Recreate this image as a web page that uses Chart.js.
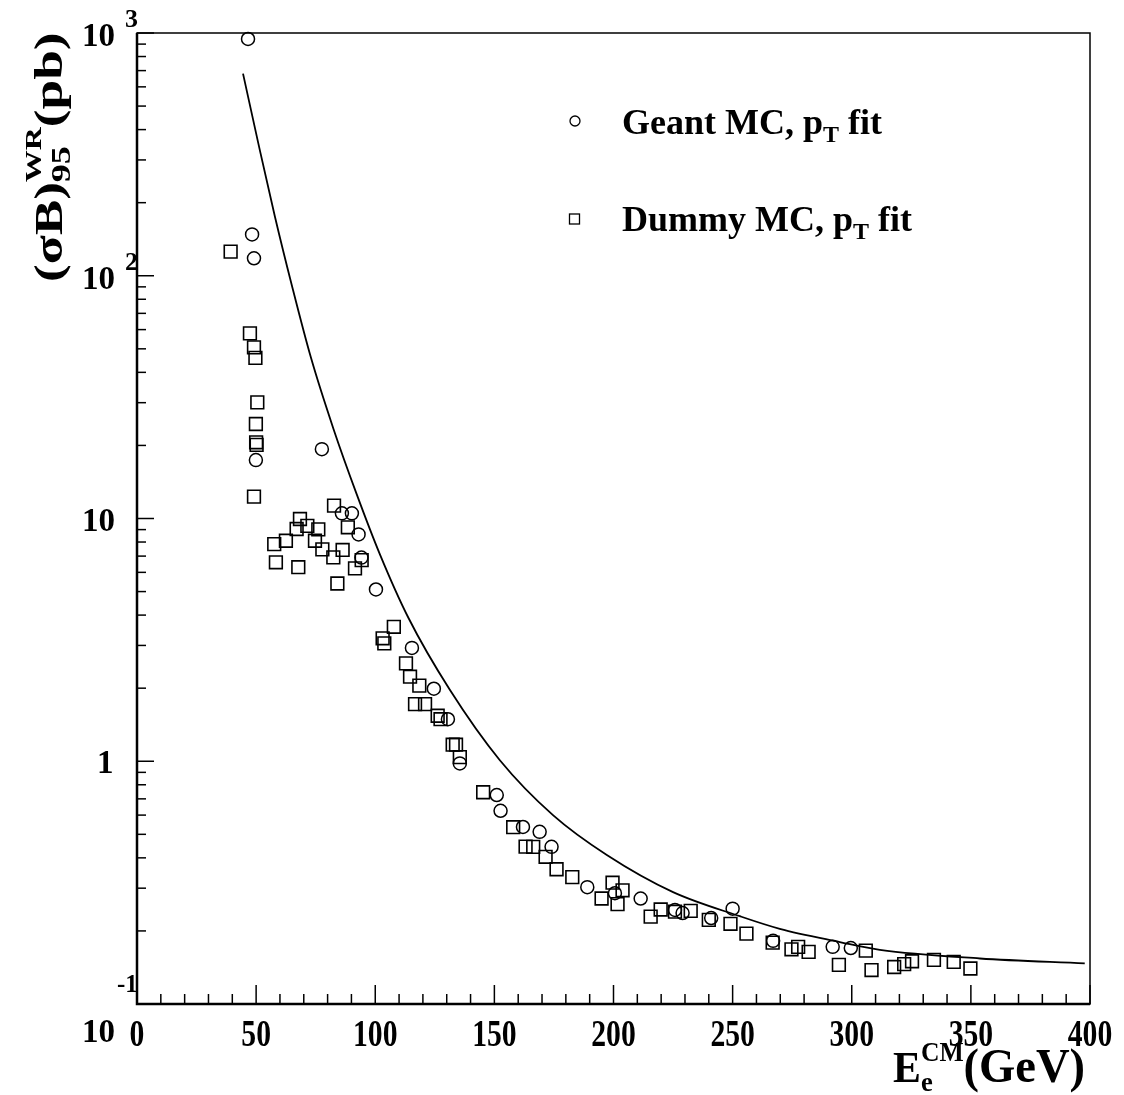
<!DOCTYPE html>
<html>
<head>
<meta charset="utf-8">
<title>WR cross section limit vs E_CM</title>
<script src="https://cdn.jsdelivr.net/npm/chart.js@4.4.1/dist/chart.umd.min.js"></script>
<style>
  html, body { margin: 0; padding: 0; background: #fff; }
  canvas { display: block; }
</style>
</head>
<body>
<canvas id="plot" width="1124" height="1095"></canvas>
<script>
// Geant MC, pT fit (circles)
const geantE = [46.6, 48.3, 49.1, 49.9, 77.6, 86.0, 90.2, 93.0, 94.2, 100.3, 115.4, 124.6, 130.5, 135.5,
  151.0, 152.6, 162.0, 169.0, 174.0, 189.0, 200.6, 211.4, 225.8, 229.0, 241.0, 250.0, 267.0, 292.0, 299.6];
const geantSigma = [945, 148, 118, 17.4, 19.3, 10.5, 10.5, 8.6, 6.9, 5.1, 2.93, 1.99, 1.49, 0.98,
  0.726, 0.625, 0.536, 0.512, 0.444, 0.303, 0.286, 0.272, 0.244, 0.237, 0.226, 0.247, 0.182, 0.172, 0.170];

// Dummy MC, pT fit (squares)
const dummyE = [39.3, 47.4, 49.1, 49.7, 50.5, 49.9, 50.2, 50.0, 49.1,
  82.7, 68.4, 71.5, 67.0, 76.1, 88.5, 62.5, 74.7, 57.6, 86.3, 77.8, 82.4, 94.3, 58.3, 91.5, 67.7, 84.1,
  107.8, 103.1, 103.8, 112.9, 114.6, 118.5, 116.7, 120.9, 126.2, 127.4, 132.5, 133.9, 135.5, 145.3,
  157.9, 163.1, 166.3, 171.5, 176.1, 182.7, 195.0, 199.6, 201.7, 203.8, 215.6, 219.8, 225.8, 232.4,
  240.0, 249.1, 255.8, 266.8, 274.7, 277.5, 281.9, 294.6, 305.9, 308.3, 317.8, 322.0, 325.3, 334.5,
  342.8, 349.8];
const dummySigma = [125.7, 57.9, 50.7, 45.9, 30.1, 24.5, 20.1, 20.6, 12.3,
  11.3, 9.95, 9.33, 9.05, 9.02, 9.2, 8.1, 8.1, 7.84, 7.42, 7.46, 6.92, 6.74, 6.6, 6.23, 6.3, 5.4,
  3.58, 3.21, 3.06, 2.53, 2.23, 2.05, 1.72, 1.72, 1.54, 1.49, 1.17, 1.17, 1.04, 0.745,
  0.535, 0.445, 0.444, 0.404, 0.359, 0.333, 0.272, 0.316, 0.258, 0.294, 0.229, 0.245, 0.240, 0.242,
  0.222, 0.214, 0.195, 0.179, 0.168, 0.172, 0.164, 0.145, 0.166, 0.138, 0.142, 0.146, 0.150, 0.152,
  0.149, 0.140];

// solid curve
const fitE = [44.5, 50.9, 57.9, 64.9, 73.0, 82.4, 92.2, 102.0, 113.9, 131.3, 152.3, 174.6, 197.2,
  225.0, 253.0, 269.8, 295.0, 311.8, 353.8, 397.8];
const fitSigma = [680, 352, 175, 92, 46, 23.5, 12.6, 7.1, 3.9, 1.97, 1.01, 0.600, 0.411,
  0.289, 0.230, 0.204, 0.180, 0.167, 0.154, 0.147];

// axis tick labels
const xTickLabels = [0, 50, 100, 150, 200, 250, 300, 350, 400];
const yTickExponents = [-1, 0, 1, 2, 3];

const legendLabels = ['Geant MC, p', 'Dummy MC, p'];

const SERIF = '"Liberation Serif", "DejaVu Serif", serif';

function pts(xs, ys) {
  return xs.map((x, i) => ({ x: x, y: ys[i] }));
}

// draws base text with subscript / superscript pieces, left to right
function richText(ctx, x, y, parts) {
  let cx = x;
  let lastBase = x;
  parts.forEach(p => {
    ctx.font = 'bold ' + p.size + 'px ' + SERIF;
    const start = p.sameStart ? lastBase : cx;
    ctx.fillText(p.t, start, y + (p.dy || 0));
    const w = ctx.measureText(p.t).width;
    if (!p.sameStart) lastBase = cx;
    cx = Math.max(cx, start + w);
  });
  return cx;
}

const framePlugin = {
  id: 'frame',
  afterDraw(chart) {
    const ctx = chart.ctx;
    const a = chart.chartArea;
    const xs = chart.scales.x;
    const ys = chart.scales.y;
    ctx.save();
    ctx.strokeStyle = '#000';
    ctx.fillStyle = '#000';

    // frame
    ctx.lineWidth = 1.5;
    ctx.strokeRect(a.left, a.top, a.right - a.left, a.bottom - a.top);
    ctx.lineWidth = 2.5;
    ctx.beginPath();
    ctx.moveTo(a.left, a.top);
    ctx.lineTo(a.left, a.bottom);
    ctx.lineTo(a.right, a.bottom);
    ctx.stroke();

    // x ticks (inward)
    ctx.lineWidth = 1.5;
    for (let v = 0; v <= 400; v += 10) {
      const px = xs.getPixelForValue(v);
      const len = v % 50 === 0 ? 19 : 10;
      ctx.beginPath();
      ctx.moveTo(px, a.bottom);
      ctx.lineTo(px, a.bottom - len);
      ctx.stroke();
    }
    // y ticks (inward)
    for (let e = -1; e < 3; e++) {
      for (let m = 1; m <= 9; m++) {
        const v = m * Math.pow(10, e);
        const py = ys.getPixelForValue(v);
        const len = m === 1 ? 17 : 9;
        ctx.beginPath();
        ctx.moveTo(a.left, py);
        ctx.lineTo(a.left + len, py);
        ctx.stroke();
      }
    }
    const pTop = ys.getPixelForValue(1000);
    ctx.beginPath();
    ctx.moveTo(a.left, pTop);
    ctx.lineTo(a.left + 17, pTop);
    ctx.stroke();

    // x tick labels (tall condensed)
    ctx.textBaseline = 'alphabetic';
    xTickLabels.forEach(v => {
      const px = xs.getPixelForValue(v);
      ctx.save();
      ctx.translate(px, 1046);
      ctx.scale(0.78, 1);
      ctx.font = 'bold 38px ' + SERIF;
      ctx.textAlign = 'center';
      ctx.fillText(String(v), 0, 0);
      ctx.restore();
    });

    // y tick labels
    ctx.textAlign = 'left';
    yTickExponents.forEach(e => {
      const py = ys.getPixelForValue(Math.pow(10, e));
      ctx.font = 'bold 33px ' + SERIF;
      if (e === 0) {
        ctx.fillText('1', 97, py + 12);
      } else if (e === 1) {
        ctx.fillText('10', 82, py + 12);
      } else if (e === -1) {
        ctx.fillText('10', 82, py + 38);
        ctx.font = 'bold 25px ' + SERIF;
        ctx.fillText('-1', 117, py - 12);
      } else {
        ctx.fillText('10', 82, py + 13);
        ctx.font = 'bold 26px ' + SERIF;
        ctx.fillText(String(e), 125, py - 6);
      }
    });

    // x axis title
    ctx.save();
    ctx.translate(893, 1082);
    ctx.scale(0.95, 1);
    richText(ctx, 0, 0, [
      { t: 'E', size: 44 },
      { t: 'e', size: 28, dy: 9 },
      { t: 'CM', size: 27, dy: -21, sameStart: true },
      { t: '(GeV)', size: 49 }
    ]);
    ctx.restore();

    // y axis title (stretched along its direction like the scan)
    ctx.save();
    ctx.translate(62, 282);
    ctx.rotate(-Math.PI / 2);
    ctx.scale(1.33, 1);
    richText(ctx, 0, 0, [
      { t: '(\u03c3B)', size: 40 },
      { t: '95', size: 27, dy: 8 },
      { t: 'WR', size: 24, dy: -21, sameStart: true },
      { t: '(pb)', size: 40 }
    ]);
    ctx.restore();

    // legend
    ctx.lineWidth = 1.3;
    ctx.beginPath();
    ctx.arc(575, 121, 5, 0, Math.PI * 2);
    ctx.stroke();
    ctx.strokeRect(569.5, 214, 10, 10);
    richText(ctx, 622, 134, [
      { t: legendLabels[0], size: 36 },
      { t: 'T', size: 24, dy: 8 },
      { t: ' fit', size: 36 }
    ]);
    richText(ctx, 622, 231, [
      { t: legendLabels[1], size: 36 },
      { t: 'T', size: 24, dy: 8 },
      { t: ' fit', size: 36 }
    ]);
    ctx.restore();
  }
};

const ctx = document.getElementById('plot').getContext('2d');
new Chart(ctx, {
  type: 'scatter',
  data: {
    datasets: [
      {
        label: 'fit',
        data: pts(fitE, fitSigma),
        showLine: true,
        borderColor: '#000',
        borderWidth: 1.8,
        pointRadius: 0,
        cubicInterpolationMode: 'monotone',
        fill: false
      },
      {
        label: 'Geant MC, pT fit',
        data: pts(geantE, geantSigma),
        pointStyle: 'circle',
        pointRadius: 6.5,
        borderColor: '#000',
        borderWidth: 1.5,
        backgroundColor: 'rgba(0,0,0,0)'
      },
      {
        label: 'Dummy MC, pT fit',
        data: pts(dummyE, dummySigma),
        pointStyle: 'rect',
        pointRadius: 9,
        borderColor: '#000',
        borderWidth: 1.6,
        backgroundColor: 'rgba(0,0,0,0)'
      }
    ]
  },
  options: {
    responsive: false,
    animation: false,
    devicePixelRatio: 1,
    clip: false,
    layout: { padding: { left: 137, top: 33, right: 34, bottom: 91 } },
    plugins: {
      legend: { display: false },
      tooltip: { enabled: false }
    },
    scales: {
      x: { type: 'linear', min: 0, max: 400, display: false },
      y: { type: 'logarithmic', min: 0.1, max: 1000, display: false }
    }
  },
  plugins: [framePlugin]
});
</script>
</body>
</html>
